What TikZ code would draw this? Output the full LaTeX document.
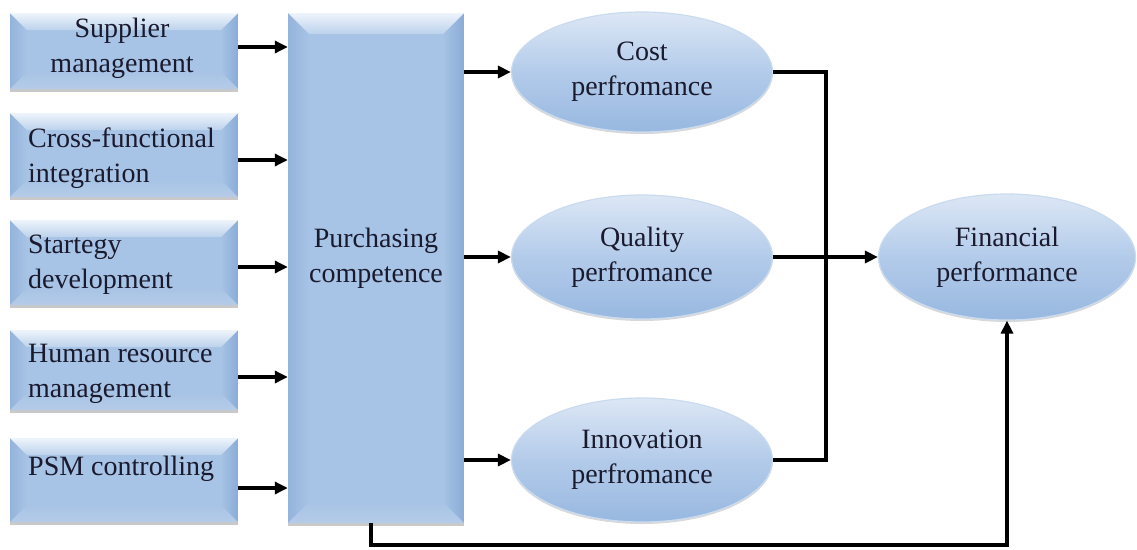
\documentclass[tikz,border=0pt]{standalone}
\usepackage{fontspec}
\setmainfont{Liberation Serif}
\usetikzlibrary{arrows.meta,shadows,shapes.geometric}

\definecolor{boxbase}{HTML}{A7C3E5}
\definecolor{bevtop}{HTML}{EEF4FC}
\definecolor{bevtopb}{HTML}{BCD2EC}
\definecolor{bevleft}{HTML}{95B4DC}
\definecolor{bevright}{HTML}{8AACD7}
\definecolor{bevbot}{HTML}{B5CCE8}
\definecolor{elltop}{HTML}{DCE7F5}
\definecolor{ellmid}{HTML}{B3CBEA}
\definecolor{ellbot}{HTML}{98B8E0}
\definecolor{ellrim}{HTML}{CADBEF}
\definecolor{ink}{HTML}{1A1A2E}

\tikzset{
  x=1pt, y=-1pt,
  txt/.style={font=\fontsize{28}{35}\selectfont, text=ink, inner sep=0pt},
  % bevelled blue panel, #1 = bevel width
  bevelbox/.style={rectangle, inner sep=0pt, fill=boxbase,
    drop shadow={shadow xshift=0pt, shadow yshift=-3pt, opacity=0.35, fill=black!60},
    path picture={
      \coordinate (pnw) at (path picture bounding box.north west);
      \coordinate (pne) at (path picture bounding box.north east);
      \coordinate (psw) at (path picture bounding box.south west);
      \coordinate (pse) at (path picture bounding box.south east);
      \coordinate (inw) at ([xshift=#1pt,yshift=-#1pt]pnw);
      \coordinate (ine) at ([xshift=-#1pt,yshift=-#1pt]pne);
      \coordinate (isw) at ([xshift=#1pt,yshift=#1pt]psw);
      \coordinate (ise) at ([xshift=-#1pt,yshift=#1pt]pse);
      \shade[left color=bevleft, right color=boxbase] (pnw) -- (inw) -- (isw) -- (psw) -- cycle;
      \shade[left color=boxbase, right color=bevright] (pne) -- (ine) -- (ise) -- (pse) -- cycle;
      \shade[top color=boxbase, bottom color=bevbot] (psw) -- (isw) -- (ise) -- (pse) -- cycle;
      \shade[top color=bevtop, bottom color=bevtopb] (pnw) -- (pne) -- (ine) -- (inw) -- cycle;
    }},
  oval/.style={ellipse, inner sep=0pt, align=center,
    top color=elltop, bottom color=ellbot, middle color=ellmid,
    draw=ellrim, line width=1.2pt,
    drop shadow={shadow xshift=0pt, shadow yshift=-2pt, opacity=0.25, fill=black!60},
    font=\fontsize{28}{35}\selectfont, text=ink},
  link/.style={line width=3.2pt, black},
  arr/.style={link, -{Triangle[length=13pt,width=12pt]}},
}

\begin{document}
\begin{tikzpicture}
\fill[white] (0,0) rectangle (1137,549);
\useasboundingbox (0,0) rectangle (1137,549);

% input panels
\node[bevelbox=17, minimum width=228pt, minimum height=76pt] (b1) at (124,51) {};
\node[bevelbox=17, minimum width=228pt, minimum height=84pt] (b2) at (124,155) {};
\node[bevelbox=17, minimum width=228pt, minimum height=85pt] (b3) at (124,262.5) {};
\node[bevelbox=17, minimum width=228pt, minimum height=80pt] (b4) at (124,370) {};
\node[bevelbox=17, minimum width=228pt, minimum height=84pt] (b5) at (124,480) {};

% panel labels (base anchor sits on the last line)
\node[txt, align=center, anchor=base] (t1) at (122,72) {Supplier\\management};
\node[txt, align=left, anchor=base west] (t2) at (28,182) {Cross-functional\\integration};
\node[txt, align=left, anchor=base west] (t3) at (28,288) {Startegy\\development};
\node[txt, align=left, anchor=base west] (t4) at (28,397) {Human resource\\management};
\node[txt, align=left, anchor=base west] (t5) at (28,475) {PSM controlling};

% central panel
\node[bevelbox=21, minimum width=176pt, minimum height=510pt] (pc) at (376,268) {};
\node[txt, align=center, anchor=base] (pctext) at (376,282) {Purchasing\\competence};

% performance ovals
\node[oval, minimum width=261pt, minimum height=120pt] (cost) at (642,72) {Cost\\perfromance};
\node[oval, minimum width=261pt, minimum height=124pt] (qual) at (642,257) {Quality\\perfromance};
\node[oval, minimum width=261pt, minimum height=124pt] (innov) at (642,460) {Innovation\\perfromance};
\node[oval, minimum width=257pt, minimum height=126pt] (fin) at (1007,257) {Financial\\performance};

% inputs into the central panel
\draw[arr] (b1.east |- 0,47) -- (pc.west |- 0,47);
\draw[arr] (b2.east |- 0,160) -- (pc.west |- 0,160);
\draw[arr] (b3.east |- 0,267) -- (pc.west |- 0,267);
\draw[arr] (b4.east |- 0,377) -- (pc.west |- 0,377);
\draw[arr] (b5.east |- 0,488) -- (pc.west |- 0,488);

% central panel to the ovals
\draw[arr] (pc.east |- cost.west) -- (cost.west);
\draw[arr] (pc.east |- qual.west) -- (qual.west);
\draw[arr] (pc.east |- innov.west) -- (innov.west);

% collector bar into financial performance
\coordinate (bus) at (826,257);
\draw[link] (cost.east) -| (bus) |- (innov.east);
\draw[arr] (qual.east) -- (fin.west);

% direct link underneath
\coordinate (fb) at (371,545);
\draw[arr] (pc.south -| fb) -- (fb) -| (fin.south);
\end{tikzpicture}
\end{document}
